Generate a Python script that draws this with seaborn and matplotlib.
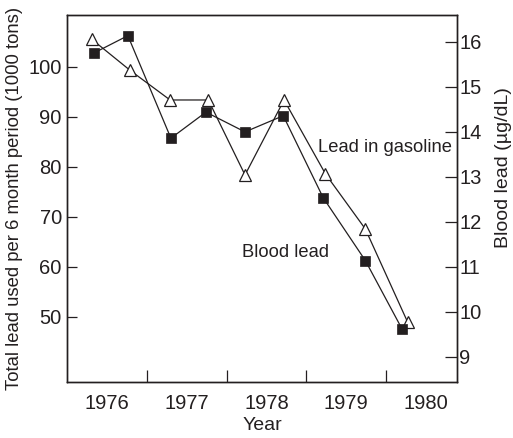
import matplotlib
matplotlib.use("Agg")
import matplotlib.pyplot as plt
import matplotlib.ticker as mticker
import seaborn as sns
import pandas as pd

# Half-year periods (decimal year at the middle of each 6-month period)
gas_period = [1976.31, 1976.79, 1977.29, 1977.77, 1978.23, 1978.72, 1979.24, 1979.74, 1980.27]
gas_lead = [105.5, 99.3, 93.4, 93.4, 78.4, 93.4, 78.6, 67.6, 49.0]  # 1000 tons per 6 months

blood_period = [1976.34, 1976.76, 1977.30, 1977.74, 1978.23, 1978.71, 1979.21, 1979.74, 1980.20]
blood_lead = [15.76, 16.14, 13.86, 14.44, 14.00, 14.36, 12.54, 11.14, 9.62]  # ug/dL

year_labels = ["1976", "1977", "1978", "1979", "1980"]
year_starts = [1976, 1977, 1978, 1979, 1980]
left_ticks = [50, 60, 70, 80, 90, 100]
right_ticks = [9, 10, 11, 12, 13, 14, 15, 16]

sns.set_style("ticks")
plt.rcParams["font.family"] = ["Liberation Sans", "DejaVu Sans"]

ink = "#231f20"

gas_df = pd.DataFrame({"period": gas_period, "lead": gas_lead})
blood_df = pd.DataFrame({"period": blood_period, "lead": blood_lead})

fig = plt.figure(figsize=(5.13, 4.38), dpi=100)
ax = fig.add_axes([0.1312, 0.1279, 0.7596, 0.8379])
ax2 = ax.twinx()

sns.lineplot(data=gas_df, x="period", y="lead", ax=ax, color=ink, linewidth=0.9,
             marker="^", markersize=9, markerfacecolor="white",
             markeredgecolor=ink, markeredgewidth=0.9, legend=False)
sns.lineplot(data=blood_df, x="period", y="lead", ax=ax2, color=ink, linewidth=0.9,
             marker="s", markersize=7.2, markerfacecolor=ink,
             markeredgecolor=ink, markeredgewidth=0.5, legend=False)

ax.set_xlim(1976.0, 1980.89)
ax.set_ylim(37.0, 110.4)
ax2.set_ylim(8.44, 16.6)

# Year labels sit in the middle of each year, tick marks at year boundaries
ax.set_xticks([y + 0.5 for y in year_starts])
ax.set_xticklabels(year_labels)
ax.xaxis.set_minor_locator(mticker.FixedLocator(year_starts[1:]))
ax.tick_params(axis="x", which="major", length=0, pad=8.5, labelsize=14.5, colors=ink)
ax.tick_params(axis="x", which="minor", direction="in", length=8.5, width=0.9,
               color=ink, top=False)

ax.set_yticks(left_ticks)
ax.tick_params(axis="y", direction="in", length=7.5, width=0.9, pad=4,
               labelsize=14.5, colors=ink)
ax2.set_yticks(right_ticks)
ax2.tick_params(axis="y", direction="in", length=8.5, width=0.9, pad=1.5,
                labelsize=14.5, colors=ink)

for a in (ax, ax2):
    for s in a.spines.values():
        s.set_visible(True)
        s.set_linewidth(1.0)
        s.set_color(ink)

ax.set_xlabel("Year", fontsize=14, color=ink, labelpad=3)
ax.set_ylabel("Total lead used per 6 month period (1000 tons)", fontsize=13.3,
              color=ink)
ax.yaxis.set_label_coords(-0.113, 0.5)
ax2.set_ylabel("Blood lead (\u00b5g/dL)", fontsize=14, color=ink)
ax2.yaxis.set_label_coords(1.098, 0.583)

ax.text(1979.146, 83.06, "Lead in gasoline", fontsize=13.2, color=ink,
        ha="left", va="baseline")
ax.text(1978.19, 62.06, "Blood lead", fontsize=13.2, color=ink,
        ha="left", va="baseline")

fig.savefig("out.png", dpi=100)
